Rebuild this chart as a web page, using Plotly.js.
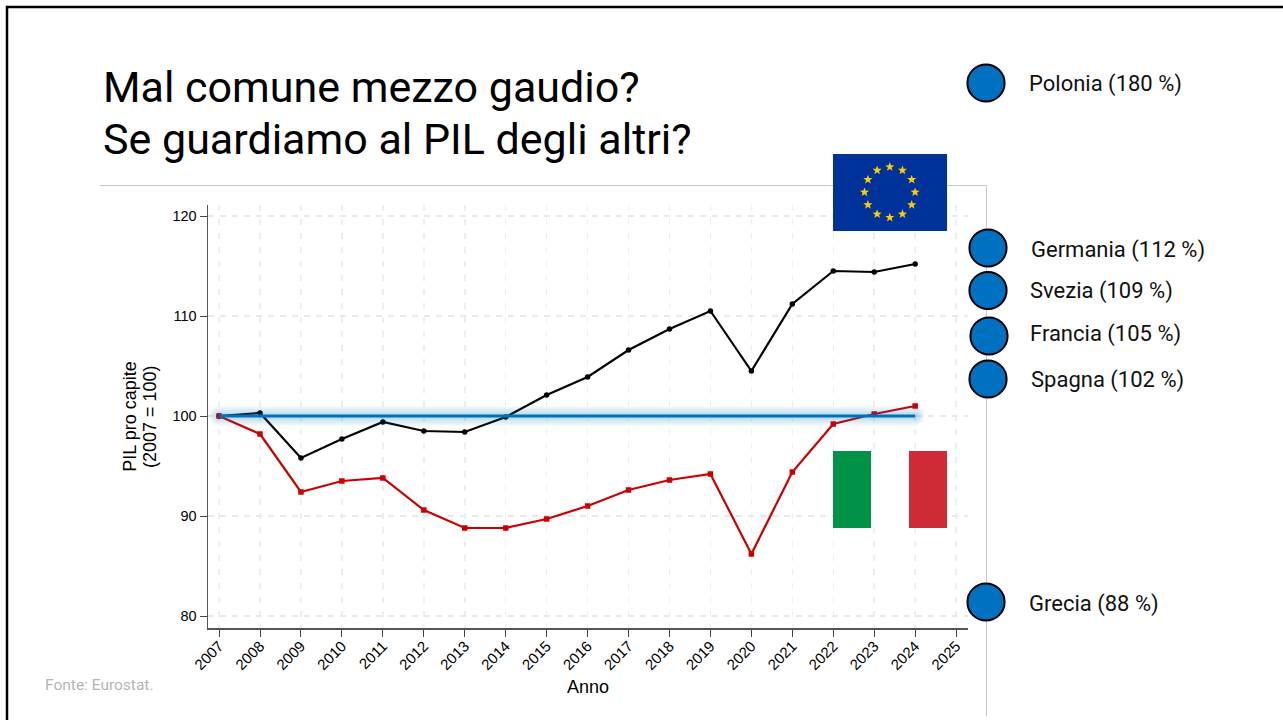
<!DOCTYPE html>
<html>
<head>
<meta charset="utf-8">
<script src="https://cdn.plot.ly/plotly-3.0.1.min.js"></script>
<style>html,body{margin:0;padding:0;background:#fff;overflow:hidden}
.scatterlayer .trace:not(:nth-child(-n+2)):not(:last-child) .js-line{stroke-linecap:round}</style>
</head>
<body>
<div id="chart" style="width:1283px;height:720px"></div>
<script>
const years = [2007,2008,2009,2010,2011,2012,2013,2014,2015,2016,2017,2018,2019,2020,2021,2022,2023,2024];
const tickYears = [2007,2008,2009,2010,2011,2012,2013,2014,2015,2016,2017,2018,2019,2020,2021,2022,2023,2024,2025];
const euValues = [100,100.3,95.8,97.7,99.4,98.5,98.4,99.9,102.1,103.9,106.6,108.7,110.5,104.5,111.2,114.5,114.4,115.2];
const italyValues = [100,98.2,92.4,93.5,93.8,90.6,88.8,88.8,89.7,91,92.6,93.6,94.2,86.2,94.4,99.2,100.2,101];
const baseValues = [100,100,100,100,100,100,100,100,100,100,100,100,100,100,100,100,100,100];
const yTicks = [80,90,100,110,120];
const countries = ['Polonia (180 %)','Germania (112 %)','Svezia (109 %)','Francia (105 %)','Spagna (102 %)','Grecia (88 %)'];

const W = 1283, H = 720;
const sans = 'Liberation Sans, Arial, sans-serif';
const slide = 'Roboto, Open Sans, sans-serif';

const circleXY = [[986,83],[988,248],[988,290.5],[989,336],[988,379],[986,602]];
const labelXY = [[1029,84],[1031,250],[1030,291],[1030,334],[1031,380],[1029,604]];

const X = v => v/W, Y = v => 1-v/H;
const shapes = [];
function pathOf(pts, close){
  return pts.map((p,i)=>(i?'L ':'M ')+X(p[0]).toFixed(5)+' '+Y(p[1]).toFixed(5)).join(' ')+(close?' Z':'');
}
function box(x0,y0,x1,y1,fill,extra){
  return Object.assign({type:'rect',xref:'paper',yref:'paper',layer:'above',x0:X(x0),x1:X(x1),y0:Y(y0),y1:Y(y1),fillcolor:fill,line:{width:0}},extra||{});
}
// slide frame and divider lines
shapes.push({type:'path',xref:'paper',yref:'paper',layer:'above',path:pathOf([[7,720],[7,7],[1283,7]]),line:{color:'#000',width:2.5}});
shapes.push({type:'path',xref:'paper',yref:'paper',layer:'below',path:pathOf([[100,185.5],[986.5,185.5],[986.5,716]]),line:{color:'#c8c8c8',width:1}});
// flags
shapes.push(box(833,154,947,231,'#003399'));
for(let i=0;i<12;i++){
  const a = i*Math.PI/6, cx = 889.8+25.3*Math.sin(a), cy = 192.2-25.3*Math.cos(a);
  const pts = [];
  for(let k=0;k<10;k++){
    const r = k%2? 2:4.8, b = k*Math.PI/5;
    pts.push([cx+r*Math.sin(b),cy-r*Math.cos(b)]);
  }
  shapes.push({type:'path',xref:'paper',yref:'paper',layer:'above',path:pathOf(pts,true),fillcolor:'#ffcc00',line:{width:0}});
}
shapes.push(box(833,451,871,528,'#009246'));
shapes.push(box(871,451,909,528,'#ffffff'));
shapes.push(box(909,451,947,528,'#ce2b37'));
// country discs
circleXY.forEach(c=>shapes.push(box(c[0]-18.6,c[1]-18.6,c[0]+18.6,c[1]+18.6,'#0070c0',{type:'circle',line:{color:'#000',width:2}})));

function note(x,y,text,font,extra){
  return Object.assign({xref:'paper',yref:'paper',x:X(x),y:Y(y),xanchor:'left',yanchor:'middle',align:'left',showarrow:false,text,font,borderpad:0,borderwidth:0},extra||{});
}
const titleFont = {family:slide,size:43,color:'#000'};
const annotations = [
  note(103,87,'Mal comune mezzo gaudio?',titleFont),
  note(103,139,'Se guardiamo al PIL degli altri?',titleFont),
  note(45,685,'Fonte: Eurostat.',{family:slide,size:15.5,color:'#b4b4b4'}),
  note(150,417,'(2007 = 100)',{family:sans,size:18,color:'#000'},{xanchor:'center',textangle:-90})
];
countries.forEach((t,i)=>annotations.push(note(labelXY[i][0],labelXY[i][1],t,{family:slide,size:22,color:'#111'})));

const glow = [20,17,14,11,8,5].map(w=>({x:years,y:baseValues,mode:'lines',hoverinfo:'skip',showlegend:false,
  line:{color:'rgba(0,112,192,0.045)',width:w}}));

const data = [
  {x:years,y:euValues,mode:'lines+markers',line:{color:'#000',width:2.2},marker:{color:'#000',size:5.5,symbol:'circle'},showlegend:false},
  {x:years,y:italyValues,mode:'lines+markers',line:{color:'#cc0000',width:2.2},marker:{color:'#cc0000',size:5.5,symbol:'square'},showlegend:false},
  ...glow,
  {x:years,y:baseValues,mode:'lines',line:{color:'#0070c0',width:3},showlegend:false}
];

const layout = {
  width:W,height:H,margin:{l:0,r:0,t:0,b:0},paper_bgcolor:'#fff',plot_bgcolor:'rgba(0,0,0,0)',
  font:{family:sans,color:'#000'},showlegend:false,
  xaxis:{domain:[208/W,968/W],range:[2006.73,2025.29],tickmode:'array',tickvals:tickYears,ticktext:tickYears.map(String),
    tickangle:-45,ticks:'outside',ticklen:7,tickcolor:'#444',tickwidth:1,tickfont:{family:sans,size:15,color:'#000'},ticklabelstandoff:-5,
    showline:true,linecolor:'#555',linewidth:1.5,showgrid:true,gridcolor:'#eeeeee',griddash:'6px,8px',gridwidth:1.5,zeroline:false,
    title:{text:'Anno',font:{family:sans,size:18,color:'#000'},standoff:8}},
  yaxis:{domain:[1-628/H,1-205/H],range:[78.8,121.1],tickmode:'array',tickvals:yTicks,ticks:'outside',ticklen:7,tickcolor:'#444',tickwidth:1,
    tickfont:{family:sans,size:14.5,color:'#000'},showline:true,linecolor:'#555',linewidth:1.5,showgrid:true,gridcolor:'#e8e8e8',griddash:'6px,6px',gridwidth:1.2,zeroline:false,
    title:{text:'PIL pro capite',font:{family:sans,size:18,color:'#000'},standoff:31}},
  shapes,annotations
};
Plotly.newPlot('chart',data,layout,{displayModeBar:false,staticPlot:true});
</script>
</body>
</html>
